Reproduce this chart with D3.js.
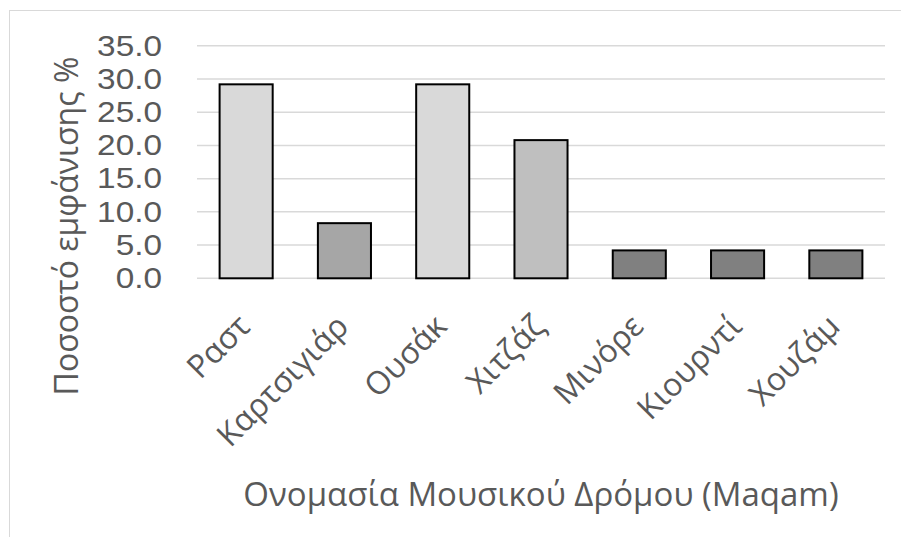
<!DOCTYPE html>
<html>
<head>
<meta charset="utf-8">
<script src="https://cdn.jsdelivr.net/npm/d3@7"></script>
<style>
  html, body { margin: 0; padding: 0; background: #fff; }
  svg { display: block; }
  text { font-family: "Open Sans", "Noto Sans", sans-serif; fill: #595959; }
</style>
</head>
<body>
<svg id="chart" width="901" height="537"></svg>
<script>
// Maqam names and their frequency of appearance (%)
const categories = ["Ραστ", "Καρτσιγιάρ", "Ουσάκ", "Χιτζάζ", "Μινόρε", "Κιουρντί", "Χουζάμ"];
const values = [29.2, 8.3, 29.2, 20.8, 4.2, 4.2, 4.2];
const yTicks = [0, 5, 10, 15, 20, 25, 30, 35];
const barFills = ["#d9d9d9", "#a6a6a6", "#d9d9d9", "#bfbfbf", "#808080", "#808080", "#808080"];
const yTitle = "Ποσοστό εμφάνισης %";
const xTitle = "Ονομασία Μουσικού Δρόμου (Maqam)";

const svg = d3.select("#chart");

// chart frame
svg.append("rect")
  .attr("x", 9.5).attr("y", 10.5)
  .attr("width", 1000).attr("height", 1000)
  .attr("fill", "none").attr("stroke", "#d9d9d9").attr("stroke-width", 1);

const plot = { left: 197, right: 885, top: 45.8, bottom: 278.3 };

const x = d3.scaleBand()
  .domain(categories)
  .range([plot.left, plot.right])
  .paddingInner(0.46)
  .paddingOuter(0.23);

const y = d3.scaleLinear()
  .domain([0, 35])
  .range([plot.bottom, plot.top]);

// horizontal gridlines
svg.append("g")
  .selectAll("line")
  .data(yTicks)
  .join("line")
  .attr("x1", plot.left).attr("x2", plot.right)
  .attr("y1", d => y(d)).attr("y2", d => y(d))
  .attr("stroke", "#d9d9d9").attr("stroke-width", 1.5);

// y tick labels (slightly widened compact face so the stacked labels stay clear)
const tickPad = 35, widen = 1.15;
const yAxis = d3.axisLeft(y)
  .tickValues(yTicks)
  .tickFormat(d3.format(".1f"))
  .tickSize(0)
  .tickPadding(tickPad);
const gy = svg.append("g")
  .attr("transform", `translate(${plot.left},0)`)
  .call(yAxis);
gy.select(".domain").remove();
gy.selectAll("text")
  .attr("font-size", 29)
  .style("font-family", "'Liberation Sans', Arial, sans-serif")
  .attr("fill", "#595959")
  .attr("x", -tickPad / widen)
  .attr("transform", `scale(${widen},1)`);

// bars
svg.append("g")
  .selectAll("rect")
  .data(values)
  .join("rect")
  .attr("x", (d, i) => x(categories[i]))
  .attr("y", d => y(d))
  .attr("width", x.bandwidth())
  .attr("height", d => y(0) - y(d))
  .attr("fill", (d, i) => barFills[i])
  .attr("stroke", "#000")
  .attr("stroke-width", 2);

// x tick labels, rotated
const xAxis = d3.axisBottom(x).tickSize(0).tickPadding(0);
const gx = svg.append("g")
  .attr("transform", `translate(0,${plot.bottom})`)
  .call(xAxis);
gx.select(".domain").remove();
gx.selectAll(".tick text")
  .attr("font-size", 32)
  .style("font-family", "'Open Sans', sans-serif")
  .attr("fill", "#595959")
  .attr("text-anchor", "end")
  .attr("dy", 0)
  .attr("y", 0)
  .attr("transform", "translate(6,50) rotate(-45)");

// axis titles
svg.append("text")
  .attr("transform", "translate(78,226) rotate(-90)")
  .attr("text-anchor", "middle")
  .attr("font-size", 32)
  .text(yTitle);

svg.append("text")
  .attr("x", 541).attr("y", 506)
  .attr("text-anchor", "middle")
  .attr("font-size", 33)
  .text(xTitle);
</script>
</body>
</html>
